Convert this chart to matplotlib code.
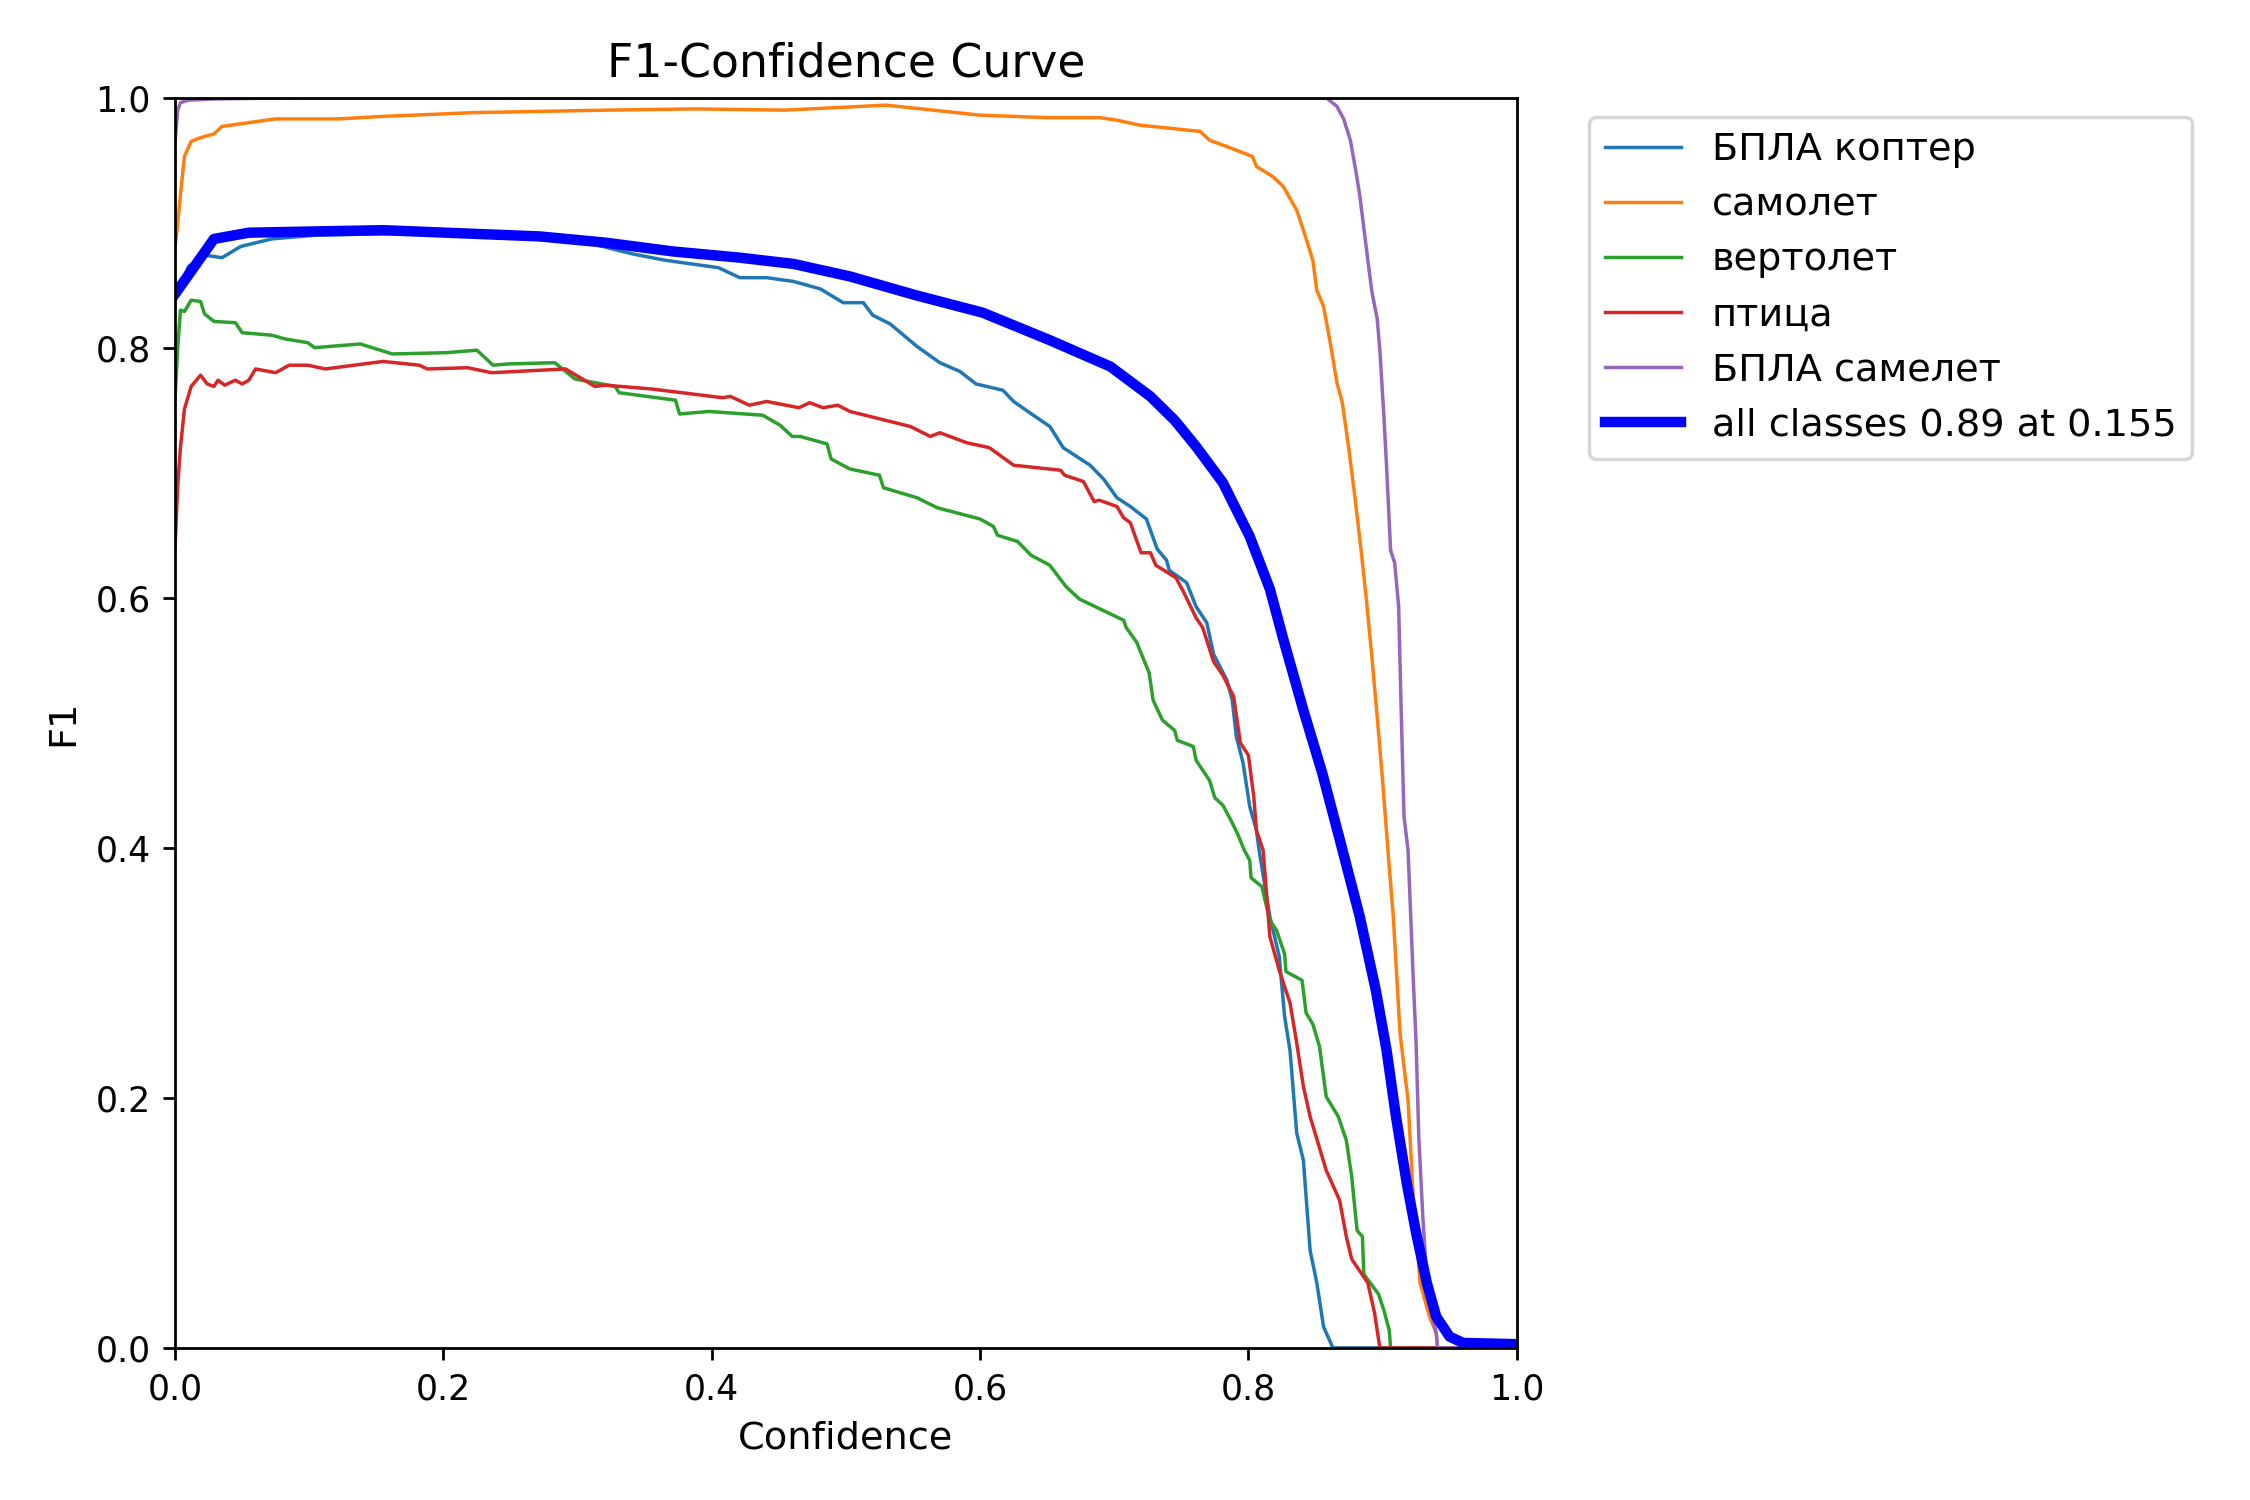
import matplotlib
matplotlib.use("Agg")
import matplotlib.pyplot as plt

names = ["БПЛА коптер", "самолет", "вертолет", "птица", "БПЛА самелет"]

kopter_x = [0, 0.004, 0.01, 0.022, 0.035, 0.049, 0.072, 0.105, 0.15, 0.2, 0.25, 0.3, 0.341, 0.365, 0.405, 0.421,
            0.441, 0.461, 0.481, 0.498, 0.513, 0.520, 0.533, 0.553, 0.570, 0.585, 0.597, 0.617, 0.625, 0.637, 0.652,
            0.662, 0.682, 0.692, 0.702, 0.712, 0.724, 0.732, 0.739, 0.741, 0.754, 0.761, 0.769, 0.774, 0.784, 0.788,
            0.791, 0.796, 0.801, 0.806, 0.808, 0.816, 0.823, 0.827, 0.831, 0.836, 0.841, 0.846, 0.851, 0.856, 0.863,
            1.0]
kopter_y = [0.84, 0.85, 0.865, 0.874, 0.872, 0.881, 0.887, 0.890, 0.891, 0.892, 0.89, 0.886, 0.875, 0.870, 0.864, 0.856,
            0.856, 0.853, 0.847, 0.836, 0.836, 0.826, 0.819, 0.801, 0.788, 0.781, 0.771, 0.766, 0.757, 0.748, 0.737,
            0.720, 0.706, 0.695, 0.680, 0.673, 0.663, 0.639, 0.630, 0.622, 0.612, 0.593, 0.580, 0.555, 0.534, 0.518,
            0.489, 0.468, 0.433, 0.414, 0.398, 0.345, 0.313, 0.265, 0.238, 0.172, 0.150, 0.078, 0.052, 0.017, 0.0,
            0.0]

samolet_x = [0, 0.002, 0.004, 0.007, 0.012, 0.019, 0.029, 0.035, 0.055, 0.075, 0.122, 0.155, 0.222, 0.321, 0.388,
             0.454, 0.53, 0.6, 0.65, 0.689, 0.702, 0.719, 0.764, 0.771, 0.791, 0.803, 0.806, 0.818, 0.826, 0.836,
             0.841, 0.848, 0.851, 0.856, 0.861, 0.866, 0.870, 0.875, 0.879, 0.884, 0.888, 0.892, 0.896, 0.900, 0.904,
             0.908, 0.913, 0.919, 0.923, 0.928, 0.935, 0.940, 0.941, 1.0]
samolet_y = [0.88, 0.90, 0.922, 0.953, 0.965, 0.968, 0.971, 0.977, 0.98, 0.983, 0.983, 0.985, 0.988, 0.990, 0.991,
             0.990, 0.994, 0.986, 0.984, 0.984, 0.982, 0.978, 0.973, 0.966, 0.958, 0.953, 0.945, 0.937, 0.929, 0.910,
             0.894, 0.870, 0.846, 0.833, 0.804, 0.772, 0.756, 0.718, 0.684, 0.638, 0.598, 0.553, 0.505, 0.454, 0.398,
             0.345, 0.252, 0.198, 0.118, 0.052, 0.025, 0.012, 0.0, 0.0]

vertolet_x = [0, 0.002, 0.004, 0.007, 0.012, 0.019, 0.022, 0.029, 0.045, 0.05, 0.072, 0.082, 0.099, 0.104, 0.138,
              0.162, 0.202, 0.225, 0.237, 0.248, 0.283, 0.298, 0.328, 0.331, 0.373, 0.376, 0.398, 0.438, 0.451, 0.460,
              0.466, 0.486, 0.489, 0.503, 0.525, 0.528, 0.553, 0.568, 0.600, 0.610, 0.613, 0.628, 0.638, 0.652, 0.664,
              0.674, 0.707, 0.709, 0.717, 0.718, 0.726, 0.729, 0.736, 0.745, 0.747, 0.759, 0.761, 0.771, 0.775, 0.781,
              0.787, 0.792, 0.797, 0.801, 0.802, 0.810, 0.816, 0.821, 0.827, 0.828, 0.840, 0.843, 0.848, 0.853, 0.858,
              0.867, 0.873, 0.877, 0.881, 0.885, 0.886, 0.897, 0.901, 0.905, 0.906, 1.0]
vertolet_y = [0.76, 0.80, 0.830, 0.829, 0.838, 0.837, 0.827, 0.821, 0.820, 0.812, 0.810, 0.807, 0.804, 0.800, 0.803,
              0.795, 0.796, 0.798, 0.786, 0.787, 0.788, 0.775, 0.769, 0.764, 0.758, 0.747, 0.749, 0.746, 0.738, 0.729,
              0.729, 0.723, 0.711, 0.703, 0.698, 0.688, 0.680, 0.672, 0.663, 0.657, 0.650, 0.645, 0.634, 0.626, 0.609,
              0.599, 0.582, 0.576, 0.564, 0.561, 0.540, 0.518, 0.502, 0.494, 0.486, 0.481, 0.470, 0.454, 0.440, 0.434,
              0.422, 0.411, 0.398, 0.390, 0.376, 0.369, 0.342, 0.334, 0.315, 0.301, 0.294, 0.268, 0.259, 0.241, 0.201,
              0.185, 0.166, 0.137, 0.094, 0.089, 0.059, 0.043, 0.030, 0.014, 0.0, 0.0]

ptitsa_x = [0, 0.002, 0.004, 0.007, 0.012, 0.019, 0.024, 0.029, 0.032, 0.037, 0.045, 0.05, 0.055, 0.06, 0.075, 0.085,
            0.099, 0.112, 0.155, 0.182, 0.188, 0.218, 0.236, 0.291, 0.313, 0.321, 0.355, 0.408, 0.414, 0.428, 0.441,
            0.465, 0.473, 0.483, 0.494, 0.503, 0.548, 0.563, 0.570, 0.590, 0.607, 0.625, 0.660, 0.663, 0.677, 0.685,
            0.689, 0.702, 0.707, 0.712, 0.720, 0.727, 0.731, 0.746, 0.752, 0.761, 0.766,
            0.774, 0.781, 0.789, 0.794, 0.800, 0.804, 0.806, 0.811, 0.816, 0.823, 0.831, 0.836, 0.841, 0.846, 0.858,
            0.868, 0.873, 0.877, 0.889, 0.894, 0.898, 1.0]
ptitsa_y = [0.64, 0.69, 0.720, 0.751, 0.769, 0.778, 0.771, 0.769, 0.774, 0.770, 0.774, 0.771, 0.774, 0.783, 0.780,
            0.786, 0.786, 0.783, 0.789, 0.786, 0.783, 0.784, 0.780, 0.783, 0.769, 0.770, 0.767, 0.760, 0.761, 0.754,
            0.757, 0.752, 0.756, 0.752, 0.754, 0.749, 0.737, 0.729, 0.732, 0.724, 0.720, 0.706, 0.702, 0.698, 0.693,
            0.677, 0.678, 0.673, 0.664, 0.660, 0.636, 0.636, 0.626, 0.616, 0.604, 0.584, 0.576,
            0.549, 0.538, 0.521, 0.484, 0.474, 0.441, 0.414, 0.398, 0.329, 0.302, 0.276, 0.244, 0.209, 0.185,
            0.142, 0.118, 0.089, 0.071, 0.052, 0.028, 0.0, 0.0]

samelet_x = [0, 0.002, 0.004, 0.01, 0.03, 0.1, 0.5, 0.858, 0.866, 0.871, 0.876, 0.880, 0.883, 0.886, 0.892, 0.896,
             0.898, 0.901, 0.903, 0.906, 0.909, 0.912, 0.914, 0.916, 0.919, 0.923, 0.925, 0.927, 0.930, 0.934, 0.940,
             0.941, 1.0]
samelet_y = [0.965, 0.99, 0.996, 0.998, 0.999, 1.0, 1.0, 1.0, 0.993, 0.983, 0.966, 0.942, 0.922, 0.896, 0.845, 0.823,
             0.798, 0.745, 0.705, 0.638, 0.628, 0.593, 0.505, 0.425, 0.398, 0.292, 0.244, 0.169, 0.105, 0.038, 0.012,
             0.0, 0.0]

mean_x = [0, 0.029, 0.055, 0.155, 0.272, 0.321, 0.371, 0.421, 0.461, 0.503, 0.552, 0.602, 0.652, 0.697, 0.727,
          0.745, 0.761, 0.781, 0.801, 0.816, 0.826, 0.841, 0.855, 0.868, 0.883, 0.895, 0.903, 0.910, 0.918, 0.925,
          0.933, 0.940, 0.950, 0.960, 1.0]
mean_y = [0.843, 0.887, 0.892, 0.894, 0.889, 0.884, 0.877, 0.872, 0.867, 0.857, 0.842, 0.828, 0.806, 0.785, 0.761,
          0.742, 0.721, 0.692, 0.649, 0.607, 0.567, 0.510, 0.460, 0.407, 0.345, 0.286, 0.238, 0.185, 0.132,
          0.092, 0.052, 0.025, 0.009, 0.004, 0.003]
mean_label = "all classes 0.89 at 0.155"

series = [(kopter_x, kopter_y), (samolet_x, samolet_y), (vertolet_x, vertolet_y),
          (ptitsa_x, ptitsa_y), (samelet_x, samelet_y)]

fig, ax = plt.subplots(1, 1, figsize=(9, 6), dpi=250)
fig.subplots_adjust(left=0.0778, right=0.6741, bottom=0.1014, top=0.9349)
for name, (xs, ys) in zip(names, series):
    ax.plot(xs, ys, linewidth=1, label=name)
ax.plot(mean_x, mean_y, linewidth=3, color="blue", label=mean_label)
ax.set_xlabel("Confidence", fontsize=11)
ax.set_ylabel("F1", fontsize=11)
ax.set_xlim(0, 1)
ax.set_ylim(0, 1)
ax.legend(bbox_to_anchor=(1.04, 1), loc="upper left", fontsize=11)
ax.set_title("F1-Confidence Curve", fontsize=13.2)
fig.savefig("out.png", dpi=250)
